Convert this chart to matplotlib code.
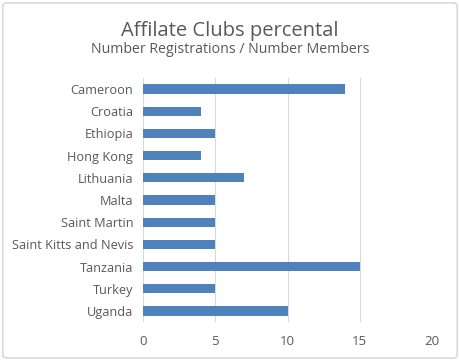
import matplotlib
matplotlib.use('Agg')
import matplotlib.pyplot as plt
from matplotlib.patches import FancyBboxPatch

# data
countries = ['Cameroon', 'Croatia', 'Ethiopia', 'Hong Kong', 'Lithuania', 'Malta',
             'Saint Martin', 'Saint Kitts and Nevis', 'Tanzania', 'Turkey', 'Uganda']
values = [14, 4, 5, 4, 7, 5, 5, 5, 15, 5, 10]
xticks = [0, 5, 10, 15, 20]

plt.rcParams['font.family'] = ['Open Sans', 'DejaVu Sans']
txt = '#595959'

fig = plt.figure(figsize=(4.6, 3.61), dpi=100)
ax = fig.add_axes([0.311, 0.108, 0.628, 0.676])

pos = list(range(len(countries)))
ax.barh(pos, values, height=0.42, color='#4f81bd', zorder=3)
ax.set_ylim(len(countries) - 0.5, -0.5)
ax.set_yticks(pos)
ax.set_yticklabels(countries, fontsize=9.2, color=txt)
ax.set_xlim(0, 20)
ax.set_xticks(xticks)
ax.set_xticklabels([str(t) for t in xticks], fontsize=9.5, color=txt)
ax.grid(axis='x', color='#d9d9d9', linewidth=0.8, zorder=0)
for s in ax.spines.values():
    s.set_visible(False)
ax.tick_params(length=0, pad=9)
ax.tick_params(axis='y', pad=7)

fig.text(0.5, 0.915, 'Affilate Clubs percental', ha='center', va='center',
         fontsize=14.5, color=txt)
fig.text(0.5, 0.863, 'Number Registrations / Number Members', ha='center', va='center',
         fontsize=10.2, color=txt)

border = FancyBboxPatch((0.006, 0.008), 0.988, 0.984, boxstyle='round,pad=0,rounding_size=0.01',
                        transform=fig.transFigure, facecolor='none', edgecolor='#d9d9d9',
                        linewidth=1.2)
fig.patches.append(border)

fig.savefig('out.png', dpi=100)
